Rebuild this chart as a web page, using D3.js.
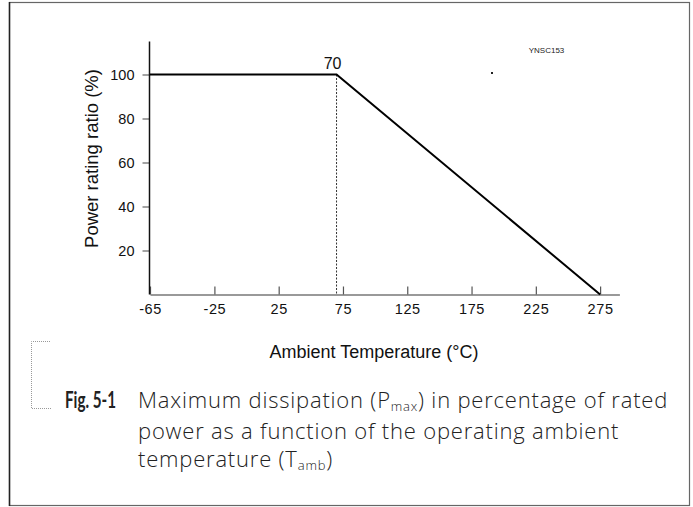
<!DOCTYPE html>
<html>
<head>
<meta charset="utf-8">
<script src="https://cdn.jsdelivr.net/npm/d3@7"></script>
<style>
  html, body { margin: 0; padding: 0; background: #fff; }
  svg { display: block; }
</style>
</head>
<body>
<svg id="chart" width="693" height="507"></svg>
<script>
// ---- data ----
const temps = [-65, 70, 275];        // ambient temperature (°C)
const ratios = [100, 100, 0];        // power rating ratio (%)
const xTicks = [-65, -25, 25, 75, 125, 175, 225, 275];
const yTicks = [20, 40, 60, 80, 100];
const kneeLabel = "70";
const xTitle = "Ambient Temperature (°C)";
const yTitle = "Power rating ratio (%)";
const figCode = "YNSC153";
const figNo = "Fig. 5-1";

const arial = "'Liberation Sans', Arial, sans-serif";
const svg = d3.select("#chart");
svg.append("rect").attr("width", 693).attr("height", 507).attr("fill", "#fff");

// frame
svg.append("rect").attr("x", 9.5).attr("y", 2.5).attr("width", 680).attr("height", 503)
  .attr("fill", "none").attr("stroke", "#666").attr("stroke-width", 1.2);
svg.append("line").attr("x1", 9.5).attr("x2", 9.5).attr("y1", 2).attr("y2", 506)
  .attr("stroke", "#222").attr("stroke-width", 1.5);

// scales (the original axis is non-uniform: -65..-25 gets the same spacing as a 50°C step)
const x = d3.scaleLinear().domain([-65, -25, 290]).range([150, 214.4, 619.4]);
const y = d3.scaleLinear().domain([0, 115]).range([294.5, 41.5]);

// x axis
const gx = svg.append("g").attr("transform", `translate(0,${y(0)})`)
  .call(d3.axisBottom(x).tickValues(xTicks).tickSizeInner(-8).tickSizeOuter(0).tickPadding(9)
        .tickFormat(d => String(d)));
gx.select(".domain").attr("stroke", "#777").attr("stroke-width", 1.6);
gx.selectAll(".tick line").attr("stroke", "#555").attr("stroke-width", 1.2);
gx.selectAll(".tick text").style("font-family", arial)
  .style("font-size", "14.5px").style("letter-spacing", "0.6px").attr("fill", "#111");

// y axis
const gy = svg.append("g").attr("transform", `translate(${x(-65) - 0.5},0)`)
  .call(d3.axisLeft(y).tickValues(yTicks).tickSizeInner(7).tickSizeOuter(0).tickPadding(8));
gy.select(".domain").remove();
gy.selectAll(".tick line").attr("stroke", "#666").attr("stroke-width", 1.2);
gy.selectAll(".tick text").style("font-family", arial)
  .style("font-size", "14.5px").attr("fill", "#111");
svg.append("line").attr("x1", x(-65) - 0.5).attr("x2", x(-65) - 0.5)
  .attr("y1", y(0)).attr("y2", y(115)).attr("stroke", "#111").attr("stroke-width", 1.5);

// dashed drop line at knee
svg.append("line").attr("x1", x(temps[1])).attr("x2", x(temps[1]))
  .attr("y1", y(ratios[1])).attr("y2", y(0))
  .attr("stroke", "#333").attr("stroke-width", 1).attr("stroke-dasharray", "2,1.5");

// derating curve
const pts = temps.map((t, i) => [t, ratios[i]]);
svg.append("path").datum(pts)
  .attr("d", d3.line().x(d => x(d[0])).y(d => y(d[1])))
  .attr("fill", "none").attr("stroke", "#000").attr("stroke-width", 2);

// knee label
svg.append("text").attr("x", x(temps[1]) - 4).attr("y", y(ratios[1]) - 6)
  .attr("text-anchor", "middle").style("font-family", arial)
  .style("font-size", "16px").attr("fill", "#111").text(kneeLabel);

// titles
svg.append("text").attr("x", 374).attr("y", 358).attr("text-anchor", "middle")
  .style("font-family", arial).style("font-size", "18px")
  .attr("fill", "#111").text(xTitle);
svg.append("text").attr("transform", "translate(98,158.5) rotate(-90)").attr("text-anchor", "middle")
  .style("font-family", arial).style("font-size", "18.5px")
  .attr("fill", "#111").text(yTitle);

// figure code and stray dot
svg.append("text").attr("x", 546.5).attr("y", 52.5).attr("text-anchor", "middle")
  .style("font-family", arial).style("font-size", "8px")
  .attr("fill", "#222").text(figCode);
svg.append("rect").attr("x", 491).attr("y", 72).attr("width", 2).attr("height", 2).attr("fill", "#222");

// dotted bracket
svg.append("path").attr("d", "M50,341.5 H31.5 V408.5 H52")
  .attr("fill", "none").attr("stroke", "#999").attr("stroke-width", 1).attr("stroke-dasharray", "1,1");

// caption
const cap = svg.append("g").attr("fill", "#222");
cap.append("text").attr("x", 65).attr("y", 408)
  .attr("textLength", 51).attr("lengthAdjust", "spacingAndGlyphs")
  .style("font-family", "Lato, sans-serif").style("font-weight", "bold")
  .style("font-size", "22px").text(figNo);
const capStyle = s => s.style("font-family", "'Open Sans', sans-serif").style("font-size", "22px")
  .style("font-weight", "300").style("letter-spacing", "0.8px");
const l1 = cap.append("text").attr("x", 138).attr("y", 408).call(capStyle);
l1.append("tspan").text("Maximum dissipation (P");
l1.append("tspan").style("font-size", "13px").attr("dy", 3).text("max");
l1.append("tspan").attr("dy", -3).text(") in percentage of rated");
cap.append("text").attr("x", 138).attr("y", 439).call(capStyle).text("power as a function of the operating ambient");
const l3 = cap.append("text").attr("x", 138).attr("y", 467).call(capStyle);
l3.append("tspan").text("temperature (T");
l3.append("tspan").style("font-size", "13px").attr("dy", 3).text("amb");
l3.append("tspan").attr("dy", -3).text(")");
</script>
</body>
</html>
